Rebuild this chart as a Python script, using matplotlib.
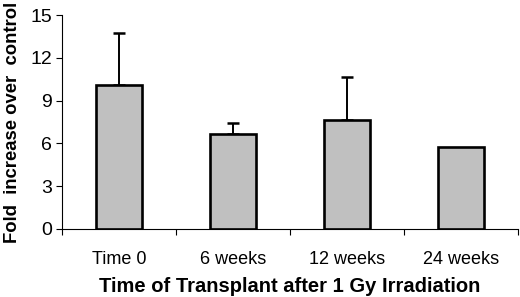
#!/usr/bin/env python3
import matplotlib
matplotlib.use('Agg')
import matplotlib.pyplot as plt
import numpy as np

categories = ["Time 0", "6 weeks", "12 weeks", "24 weeks"]
values = [10.07, 6.63, 7.64, 5.75]
errors = [3.66, 0.80, 3.01, 0.0]
y_ticks = [0, 3, 6, 9, 12, 15]


def main():
    plt.rcParams['font.family'] = ['Liberation Sans', 'DejaVu Sans']
    fig = plt.figure(figsize=(5.2, 2.97), dpi=100)
    ax = fig.add_axes([0.119, 0.229, 0.877, 0.72])

    x = np.arange(len(categories))
    ax.bar(x, values, width=0.41, color='#c0c0c0', edgecolor='black',
           linewidth=1.9, zorder=2)
    for xi, v, e in zip(x, values, errors):
        if e > 0:
            ax.errorbar(xi, v, yerr=[[0], [e]], fmt='none', ecolor='black',
                        elinewidth=1.4, capsize=4, capthick=1.8, zorder=1)

    ax.set_xlim(-0.5, len(categories) - 0.5)
    ax.set_ylim(0, 15)
    ax.set_yticks(y_ticks)
    ax.set_xticks(x)
    ax.set_xticklabels(categories, fontsize=13)
    ax.set_xticks(np.arange(len(categories) + 1) - 0.5, minor=True)
    ax.tick_params(axis='x', which='major', length=0, pad=16)
    ax.tick_params(axis='x', which='minor', length=4, width=0.8, direction='out')
    ax.tick_params(axis='y', labelsize=14, length=4, width=0.8, pad=3)

    for s in ['top', 'right']:
        ax.spines[s].set_visible(False)
    ax.spines['left'].set_linewidth(0.8)
    ax.spines['bottom'].set_linewidth(0.8)

    ax.set_ylabel("Fold  increase over  control", fontsize=13.3,
                  fontweight='bold', labelpad=7)
    ax.set_xlabel("Time of Transplant after 1 Gy Irradiation", fontsize=14.5,
                  fontweight='bold', labelpad=6)

    fig.savefig("out.png", dpi=100)


if __name__ == "__main__":
    main()
